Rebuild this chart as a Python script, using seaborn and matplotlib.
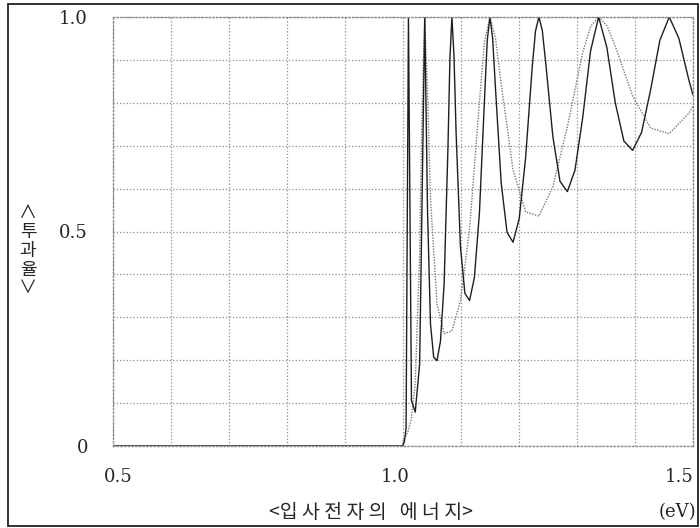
import numpy as np
import pandas as pd
import seaborn as sns
import matplotlib.pyplot as plt
from matplotlib.ticker import MultipleLocator
from matplotlib.patches import Rectangle
from matplotlib.transforms import ScaledTranslation

# ---------------------------------------------------------------
# Datos (energia en eV, transmision)
# ---------------------------------------------------------------
energia_a = [0.5, 0.9, 1.0, 1.0006, 1.0023, 1.0053, 1.0094, 1.0146, 1.0211, 1.0287,
             1.0375, 1.0423, 1.0474, 1.0529, 1.0586, 1.0646, 1.0709, 1.0775, 1.0809,
             1.0843, 1.0879, 1.0915, 1.0990, 1.1067, 1.1148, 1.1231, 1.1318, 1.1407,
             1.1453, 1.1499, 1.1546, 1.1594, 1.1693, 1.1794, 1.1897, 1.2004, 1.2114,
             1.2227, 1.2284, 1.2343, 1.2401, 1.2461, 1.2583, 1.2707, 1.2834, 1.2965,
             1.3098, 1.3234, 1.3373, 1.3515, 1.3660, 1.3808, 1.3959, 1.4113, 1.4269,
             1.4429, 1.4591, 1.4757, 1.4925, 1.5]
trans_a = [0.0, 0.0, 0.0, 0.005, 0.009, 0.041, 1.0, 0.106, 0.079, 0.191,
           1.0, 0.547, 0.284, 0.207, 0.199, 0.244, 0.378, 0.695, 0.902,
           1.0, 0.910, 0.732, 0.465, 0.356, 0.339, 0.393, 0.544, 0.814,
           0.946, 1.0, 0.949, 0.835, 0.613, 0.498, 0.475, 0.530, 0.672,
           0.882, 0.967, 1.0, 0.969, 0.893, 0.722, 0.617, 0.593, 0.643,
           0.765, 0.921, 1.0, 0.929, 0.800, 0.711, 0.689, 0.731, 0.830,
           0.946, 1.0, 0.950, 0.855, 0.818]

energia_b = [0.5, 0.9, 1.0, 1.0006, 1.0023, 1.0053, 1.0094, 1.0146, 1.0211, 1.0287,
             1.0329, 1.0375, 1.0423, 1.0474, 1.0586, 1.0709, 1.0843, 1.0990, 1.1148,
             1.1318, 1.1407, 1.1499, 1.1594, 1.1693, 1.1897, 1.2114, 1.2343, 1.2583,
             1.2834, 1.3098, 1.3234, 1.3373, 1.3515, 1.3660, 1.3959, 1.4269, 1.4591,
             1.4925, 1.5]
trans_b = [0.0, 0.0, 0.0, 0.016, 0.018, 0.024, 0.037, 0.065, 0.147, 0.447,
           0.781, 1.0, 0.823, 0.576, 0.332, 0.262, 0.268, 0.338, 0.506,
           0.803, 0.944, 1.0, 0.951, 0.844, 0.644, 0.546, 0.536, 0.604,
           0.744, 0.917, 0.978, 1.0, 0.980, 0.932, 0.816, 0.741, 0.728,
           0.775, 0.792]

xticks = [0.5, 1.0, 1.5]
xtick_labels = ['0.5', '1.0', '1.5']
yticks = [0, 0.5, 1.0]
ytick_labels = ['0', '0.5', '1.0']

df_a = pd.DataFrame({'E': energia_a, 'T': trans_a})
df_b = pd.DataFrame({'E': energia_b, 'T': trans_b})

sns.set_style('white')
plt.rcParams['font.family'] = ['Noto Sans CJK KR', 'DejaVu Sans']

fig = plt.figure(figsize=(7, 5.28), dpi=100)
ax = fig.add_axes([113 / 700, 1 - 446 / 528, 580 / 700, 429 / 528])

sns.lineplot(data=df_b, x='E', y='T', ax=ax, color='#7a7a7a', linewidth=1.0,
             linestyle=(0, (1, 1)), estimator=None, sort=False)
sns.lineplot(data=df_a, x='E', y='T', ax=ax, color='#1e1e1e', linewidth=1.0,
             estimator=None, sort=False)

ax.set_xlim(0.5, 1.5)
ax.set_ylim(0, 1.0)
ax.xaxis.set_minor_locator(MultipleLocator(0.1))
ax.yaxis.set_minor_locator(MultipleLocator(0.1))
ax.grid(which='both', color='#8c8c8c', linestyle=':', linewidth=0.9)
ax.set_axisbelow(True)

ax.set_xticks(xticks)
ax.set_xticklabels(xtick_labels, family='DejaVu Serif', fontsize=13)
ax.set_yticks(yticks)
ax.set_yticklabels(ytick_labels, family='DejaVu Serif', fontsize=13)
ax.tick_params(which='both', length=0)
ax.tick_params(axis='x', pad=16)
ax.tick_params(axis='y', pad=18)
for lbl, dx in zip(ax.get_xticklabels(), [5, -8, -14]):
    lbl.set_transform(lbl.get_transform() + ScaledTranslation(dx / 100, 0, fig.dpi_scale_trans))

for sp in ax.spines.values():
    sp.set_linestyle(':')
    sp.set_color('#8c8c8c')
    sp.set_linewidth(1.0)

ax.set_xlabel('')
ax.set_ylabel('')

fig.text(28 / 700, 1 - 251 / 528, '∧\n투\n과\n율\n∨', ha='center', va='center',
         fontsize=13, linespacing=1.05, family=['Noto Sans CJK KR', 'DejaVu Sans'])
fig.text(371 / 700, 1 - 512 / 528, '<입 사 전 자 의   에 너 지>', ha='center', va='center',
         fontsize=14, family=['Noto Sans CJK KR', 'DejaVu Sans'])
fig.text(677 / 700, 1 - 512 / 528, '(eV)', ha='center', va='center',
         fontsize=13, family='DejaVu Serif')

fig.patches.append(Rectangle((8 / 700, 1 - 526 / 528), 690 / 700, 522 / 528,
                             transform=fig.transFigure, fill=False,
                             edgecolor='#222222', linewidth=1.3))

fig.savefig('out.png', dpi=100)
